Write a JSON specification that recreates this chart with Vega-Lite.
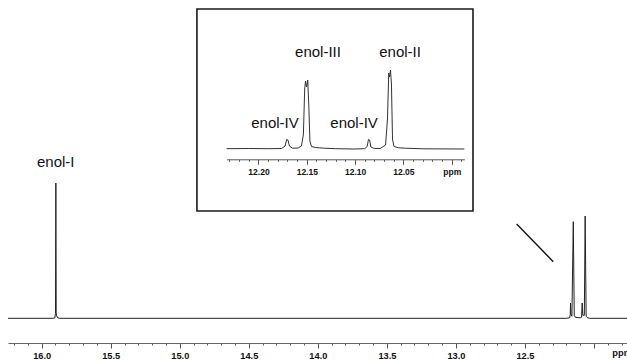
{
  "$schema": "https://vega.github.io/schema/vega-lite/v6.json",
  "width": 619,
  "height": 343,
  "autosize": {"type": "none"},
  "padding": {"left": 8, "top": 0, "right": 0, "bottom": 17},
  "background": "white",
  "config": {"view": {"stroke": null}, "font": "Liberation Sans"},
  "datasets": {
    "main": [
      {"ppm": 16.244, "intensity": 0},
      {"ppm": 15.92, "intensity": 0},
      {"ppm": 15.905, "intensity": 0.3},
      {"ppm": 15.9, "intensity": 5},
      {"ppm": 15.8975, "intensity": 135.3},
      {"ppm": 15.895, "intensity": 6},
      {"ppm": 15.892, "intensity": 2.5},
      {"ppm": 15.885, "intensity": 0.5},
      {"ppm": 15.87, "intensity": 0},
      {"ppm": 12.2, "intensity": 0},
      {"ppm": 12.176, "intensity": 0.5},
      {"ppm": 12.172, "intensity": 4},
      {"ppm": 12.17, "intensity": 15.3},
      {"ppm": 12.1675, "intensity": 4},
      {"ppm": 12.16, "intensity": 2},
      {"ppm": 12.15, "intensity": 96.6},
      {"ppm": 12.143, "intensity": 3},
      {"ppm": 12.135, "intensity": 1},
      {"ppm": 12.1, "intensity": 0.5},
      {"ppm": 12.09, "intensity": 1},
      {"ppm": 12.0856, "intensity": 15.3},
      {"ppm": 12.081, "intensity": 3},
      {"ppm": 12.07, "intensity": 3},
      {"ppm": 12.064, "intensity": 102.3},
      {"ppm": 12.057, "intensity": 2},
      {"ppm": 12.045, "intensity": 0.5},
      {"ppm": 12.03, "intensity": 0},
      {"ppm": 11.761, "intensity": 0}
    ],
    "mainLabels": [
      {"ppm": 15.898, "intensity": 151.6, "label": "enol-I"}
    ],
    "pointer": [
      {"ppm": 12.56, "ppm_end": 12.295, "intensity": 94.3, "intensity_end": 56.6}
    ],
    "inset": [
      {"ppm": 12.233, "intensity": 0.3},
      {"ppm": 12.21, "intensity": 0.5},
      {"ppm": 12.19, "intensity": 0.3},
      {"ppm": 12.176, "intensity": 0.5},
      {"ppm": 12.1725, "intensity": 3},
      {"ppm": 12.1708, "intensity": 9.5},
      {"ppm": 12.1695, "intensity": 9},
      {"ppm": 12.168, "intensity": 3},
      {"ppm": 12.165, "intensity": 0.8},
      {"ppm": 12.159, "intensity": 1},
      {"ppm": 12.1555, "intensity": 3},
      {"ppm": 12.1535, "intensity": 15},
      {"ppm": 12.1522, "intensity": 60},
      {"ppm": 12.1513, "intensity": 68},
      {"ppm": 12.1502, "intensity": 62},
      {"ppm": 12.1490, "intensity": 69},
      {"ppm": 12.1478, "intensity": 40},
      {"ppm": 12.1468, "intensity": 8},
      {"ppm": 12.1452, "intensity": 2.5},
      {"ppm": 12.141, "intensity": 1.5},
      {"ppm": 12.132, "intensity": 0.8},
      {"ppm": 12.12, "intensity": 0.3},
      {"ppm": 12.1, "intensity": 0},
      {"ppm": 12.09, "intensity": 0.3},
      {"ppm": 12.0875, "intensity": 2.5},
      {"ppm": 12.0862, "intensity": 9.5},
      {"ppm": 12.085, "intensity": 9},
      {"ppm": 12.0837, "intensity": 2},
      {"ppm": 12.08, "intensity": 0.5},
      {"ppm": 12.074, "intensity": 0.5},
      {"ppm": 12.0685, "intensity": 4},
      {"ppm": 12.0665, "intensity": 30},
      {"ppm": 12.0652, "intensity": 76},
      {"ppm": 12.0643, "intensity": 72},
      {"ppm": 12.0634, "intensity": 79},
      {"ppm": 12.0624, "intensity": 65},
      {"ppm": 12.0613, "intensity": 10},
      {"ppm": 12.0598, "intensity": 2.5},
      {"ppm": 12.055, "intensity": 1.2},
      {"ppm": 12.048, "intensity": 0.8},
      {"ppm": 12.03, "intensity": 0.2},
      {"ppm": 11.987, "intensity": 0}
    ],
    "insetLabels": [
      {"ppm": 12.1384, "intensity": 91.7, "label": "enol-III"},
      {"ppm": 12.0535, "intensity": 91.7, "label": "enol-II"},
      {"ppm": 12.1829, "intensity": 20.7, "label": "enol-IV"},
      {"ppm": 12.1011, "intensity": 20.7, "label": "enol-IV"}
    ],
    "frame": [
      {"ppm": 12.2637, "ppm_end": 11.978, "intensity": -62, "intensity_end": 140}
    ]
  },
  "layer": [
    {
      "encoding": {
        "x": {
          "field": "ppm", "type": "quantitative",
          "scale": {"domain": [11.761, 16.244], "reverse": true, "nice": false, "zero": false},
          "axis": {
            "orient": "bottom", "title": null, "grid": false,
            "values": [11.8, 11.9, 12.0, 12.1, 12.2, 12.3, 12.4, 12.5, 12.6, 12.7, 12.8, 12.9, 13.0, 13.1, 13.2, 13.3, 13.4, 13.5, 13.6, 13.7, 13.8, 13.9, 14.0, 14.1, 14.2, 14.3, 14.4, 14.5, 14.6, 14.7, 14.8, 14.9, 15.0, 15.1, 15.2, 15.3, 15.4, 15.5, 15.6, 15.7, 15.8, 15.9, 16.0, 16.1, 16.2],
            "labelExpr": "datum.value < 11.85 ? 'ppm' : ((abs(datum.value * 2 - round(datum.value * 2)) < 0.01 && datum.value > 12.05) ? format(datum.value, '.1f') : '')",
            "tickSize": {"condition": {"test": "abs(datum.value * 2 - round(datum.value * 2)) < 0.01", "value": 5}, "value": 2},
            "labelPadding": 3,
            "labelFont": "Liberation Sans", "labelFontWeight": "bold", "labelFontSize": 9.25, "labelColor": "#111",
            "domainColor": "#666", "domainWidth": 1.2, "tickColor": "#555", "tickWidth": 1,
            "labelOverlap": false, "labelBound": false, "labelFlush": false
          }
        },
        "y": {
          "field": "intensity", "type": "quantitative",
          "scale": {"domain": [-24.7, 318.3], "nice": false, "zero": false},
          "axis": null
        }
      },
      "layer": [
        {
          "data": {"name": "main"},
          "mark": {"type": "line", "color": "#222", "strokeWidth": 1, "interpolate": "linear"}
        },
        {
          "data": {"name": "mainLabels"},
          "mark": {"type": "text", "font": "Liberation Sans", "fontSize": 15, "color": "#111", "align": "center", "baseline": "alphabetic"},
          "encoding": {"text": {"field": "label"}}
        },
        {
          "data": {"name": "pointer"},
          "mark": {"type": "rule", "color": "#111", "strokeWidth": 1.4},
          "encoding": {"x2": {"field": "ppm_end"}, "y2": {"field": "intensity_end"}}
        }
      ]
    },
    {
      "encoding": {
        "x": {
          "field": "ppm", "type": "quantitative",
          "scale": {"domain": [11.987, 12.233], "range": [218.6, 456.3], "reverse": true, "nice": false, "zero": false},
          "axis": {
            "orient": "bottom", "title": null, "grid": false, "offset": -183.7,
            "values": [11.99, 12.0, 12.01, 12.02, 12.03, 12.04, 12.05, 12.06, 12.07, 12.08, 12.09, 12.1, 12.11, 12.12, 12.13, 12.14, 12.15, 12.16, 12.17, 12.18, 12.19, 12.2, 12.21, 12.22, 12.23],
            "labelExpr": "abs(datum.value - 12) < 0.001 ? 'ppm' : (abs(datum.value * 20 - round(datum.value * 20)) < 0.01 ? format(datum.value, '.2f') : '')",
            "tickSize": {"condition": {"test": "abs(datum.value * 20 - round(datum.value * 20)) < 0.01", "value": 5}, "value": 2},
            "labelPadding": 3,
            "labelFont": "Liberation Sans", "labelFontWeight": "bold", "labelFontSize": 8.5, "labelColor": "#111",
            "domainColor": "#555", "domainWidth": 1, "tickColor": "#555", "tickWidth": 1,
            "labelOverlap": false, "labelBound": false, "labelFlush": false
          }
        },
        "y": {
          "field": "intensity", "type": "quantitative",
          "scale": {"domain": [0, 79], "range": [149, 70], "nice": false, "zero": false},
          "axis": null
        }
      },
      "layer": [
        {
          "data": {"name": "frame"},
          "mark": {"type": "rect", "fillOpacity": 0, "stroke": "#1a1a1a", "strokeWidth": 1.6},
          "encoding": {"x2": {"field": "ppm_end"}, "y2": {"field": "intensity_end"}}
        },
        {
          "data": {"name": "inset"},
          "mark": {"type": "line", "color": "#333", "strokeWidth": 1, "interpolate": "linear"}
        },
        {
          "data": {"name": "insetLabels"},
          "mark": {"type": "text", "font": "Liberation Sans", "fontSize": 15, "color": "#111", "align": "center", "baseline": "alphabetic"},
          "encoding": {"text": {"field": "label"}}
        }
      ]
    }
  ],
  "resolve": {"scale": {"x": "independent", "y": "independent"}}
}
